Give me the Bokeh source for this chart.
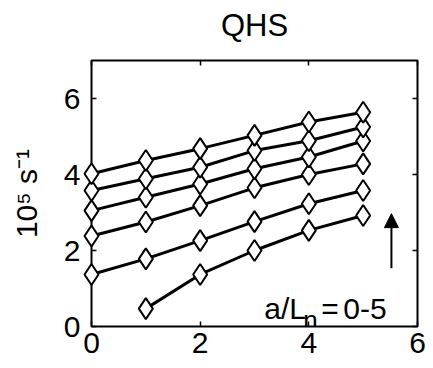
from bokeh.plotting import figure
from bokeh.models import LinearAxis, Range1d, FixedTicker, Arrow, NormalHead, Label
from bokeh.core.properties import value
from bokeh.embed import file_html
from bokeh.resources import INLINE

# Data: one series per a/L_n = 0..5
x_full = [0, 1, 2, 3, 4, 5]
x_part = [1, 2, 3, 4, 5]
s0 = [0.47, 1.37, 2.00, 2.53, 2.92]           # a/L_n = 0 (starts at x=1)
s1 = [1.37, 1.78, 2.26, 2.76, 3.23, 3.58]
s2 = [2.38, 2.75, 3.18, 3.65, 4.00, 4.28]
s3 = [3.05, 3.40, 3.75, 4.15, 4.46, 4.88]
s4 = [3.58, 3.89, 4.19, 4.63, 4.89, 5.25]
s5 = [4.02, 4.37, 4.68, 5.03, 5.38, 5.64]
series = [(x_part, s0), (x_full, s1), (x_full, s2), (x_full, s3), (x_full, s4), (x_full, s5)]
ticks = [0, 2, 4, 6]
title_text = "QHS"
x_lim = (0, 6)
y_lim = (0, 7)

FONT = "Liberation Sans"
FS = "30px"

p = figure(width=433, height=368, output_backend="svg", toolbar_location=None,
           x_range=Range1d(*x_lim), y_range=Range1d(*y_lim),
           min_border_left=91, min_border_right=16, min_border_top=60, min_border_bottom=42)

p.grid.visible = False
p.background_fill_color = "white"
p.border_fill_color = "white"
p.outline_line_color = "black"
p.outline_line_width = 2

for ax in (p.xaxis[0], p.yaxis[0]):
    ax.ticker = FixedTicker(ticks=ticks)
    ax.minor_tick_line_color = None
    ax.major_tick_in = 5
    ax.major_tick_out = 0
    ax.major_tick_line_width = 1.5
    ax.axis_line_color = None
    ax.major_label_text_font = FONT
    ax.major_label_text_font_size = FS
    ax.major_label_text_color = "black"
p.xaxis[0].major_label_standoff = 6
p.yaxis[0].major_label_standoff = 11

p.yaxis[0].axis_label = "10\u2075 s\u207b\u00b9"
p.yaxis[0].axis_label_text_font = FONT
p.yaxis[0].axis_label_text_font_size = FS
p.yaxis[0].axis_label_text_font_style = "normal"
p.yaxis[0].axis_label_text_color = "black"
p.yaxis[0].axis_label_standoff = 18

for loc in ("right", "above"):
    ax = LinearAxis(ticker=FixedTicker(ticks=ticks),
                    major_label_overrides={t: "" for t in ticks},
                    major_tick_in=5, major_tick_out=0, minor_tick_line_color=None,
                    axis_line_color=None, major_tick_line_width=1.5)
    p.add_layout(ax, loc)

for xs, ys in series:
    p.line(xs, ys, line_color="black", line_width=3, level="overlay")
for xs, ys in series:
    p.scatter(xs, ys, marker="diamond", size=21, fill_color="white",
              line_color="black", line_width=2, level="overlay")

p.add_layout(Arrow(end=NormalHead(size=14, fill_color="black", line_color="black"),
                   x_start=5.52, y_start=1.53, x_end=5.52, y_end=2.97,
                   line_color="black", line_width=2))

# Title, centred over the frame (drawn as an unclipped text glyph)
p.text(x=[sum(x_lim) / 2], y=[y_lim[1]], text=[title_text], y_offset=-35,
       text_font=value(FONT), text_font_size="31px", text_color="black",
       text_align="center", text_baseline="alphabetic", level="overlay")

ann = dict(text_font=FONT, text_color="black", text_baseline="alphabetic")
p.add_layout(Label(x=3.18, y=0.47, text="a/L", text_font_size=FS, **ann))
p.add_layout(Label(x=3.18, y=0.47, x_offset=39, y_offset=-11, text="n",
                   text_font_size="26px", **ann))
p.add_layout(Label(x=3.18, y=0.47, x_offset=57, text="=", text_font_size=FS, **ann))
p.add_layout(Label(x=3.18, y=0.47, x_offset=79, text="0-5", text_font_size=FS, **ann))

open("out.html", "w").write(file_html(p, INLINE))
